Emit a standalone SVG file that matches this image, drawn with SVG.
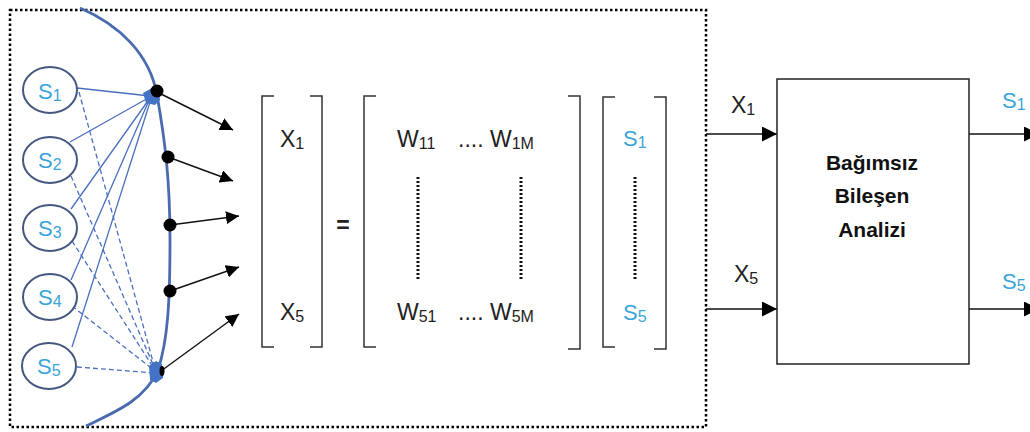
<svg xmlns="http://www.w3.org/2000/svg" width="1030" height="432" viewBox="0 0 1030 432">
  <style>
    .frame { fill: none; stroke: #000; stroke-width: 2.5; stroke-dasharray: 2.5 2.5; }
    .src { fill: #fff; stroke: #44587F; stroke-width: 2; }
    .slbl { font-family: "Liberation Sans", Arial, sans-serif; font-size: 22px; fill: #3AA4DA; }
    .lbl { font-family: "Liberation Sans", Arial, sans-serif; font-size: 23px; fill: #222; }
    .bold { font-family: "Liberation Sans", Arial, sans-serif; font-size: 21px; font-weight: bold; fill: #111; text-anchor: middle; }
    .mix { fill: none; stroke: #4A6FC0; stroke-width: 1.3; }
    .mixd { fill: none; stroke: #4A6FC0; stroke-width: 1.3; stroke-dasharray: 5 3; }
    .arrow { fill: none; stroke: #111; stroke-width: 1.4; marker-end: url(#tri); }
    .flow { fill: none; stroke: #111; stroke-width: 1.4; marker-end: url(#tri2); }
    .brk { fill: none; stroke: #333; stroke-width: 1.5; }
    .vdots { fill: none; stroke: #111; stroke-width: 3; stroke-dasharray: 2 2; }
    .sub { font-size: 16px; }
  </style>
  <defs>
    <marker id="tri" viewBox="0 0 10 10" refX="10" refY="5" markerWidth="13" markerHeight="13" markerUnits="userSpaceOnUse" orient="auto">
      <path d="M0,0 L10,5 L0,10 z" fill="#000"/>
    </marker>
    <marker id="tri2" viewBox="0 0 10 10" refX="10" refY="5" markerWidth="15" markerHeight="15" markerUnits="userSpaceOnUse" orient="auto">
      <path d="M0,0 L10,5 L0,10 z" fill="#000"/>
    </marker>
  </defs>

  <!-- dotted frame around the mixing model -->
  <rect class="frame" x="10" y="10" width="696" height="417"/>

  <!-- sensor arc -->
  <path d="M80,8 C120,25 150,55 157,95 C165,140 170,180 170,240 C170,300 168,340 158,370 C145,400 115,412 86,426" fill="none" stroke="#4A6BB0" stroke-width="2.8"/>

  <!-- mixing connectors -->
  <g id="connectors">
    <line class="mix" x1="77" y1="88" x2="150" y2="96"/>
    <line class="mix" x1="70" y1="142" x2="150" y2="97"/>
    <line class="mix" x1="71" y1="209" x2="150" y2="98"/>
    <line class="mix" x1="71" y1="280" x2="150" y2="98"/>
    <line class="mix" x1="72" y1="347" x2="151" y2="99"/>
    <line class="mixd" x1="79" y1="92" x2="155" y2="369"/>
    <line class="mixd" x1="71" y1="176" x2="155" y2="369"/>
    <line class="mixd" x1="72" y1="241" x2="155" y2="370"/>
    <line class="mixd" x1="72" y1="306" x2="155" y2="371"/>
    <line class="mixd" x1="77" y1="367" x2="155" y2="373"/>
    <!-- blue arrival marks -->
    <path d="M143,93 L152,88 L159,90 L160,100 L155,105 L146,103 z" fill="#4472C4"/>
    <path d="M149,366 L156,361 L162,364 L163,378 L156,383 L150,380 z" fill="#4472C4"/>

    <!-- sensor outputs -->
    <line class="arrow" x1="157" y1="92" x2="233" y2="130"/>
    <line class="arrow" x1="168" y1="157" x2="233" y2="181"/>
    <line class="arrow" x1="170" y1="225" x2="239" y2="216"/>
    <line class="arrow" x1="170" y1="291" x2="239" y2="267"/>
    <line class="arrow" x1="161" y1="371" x2="239" y2="314"/>

    <!-- block inputs and outputs -->
    <line class="flow" x1="706" y1="134" x2="777" y2="134"/>
    <line class="flow" x1="706" y1="309" x2="777" y2="309"/>
    <line class="flow" x1="969" y1="134" x2="1039" y2="134"/>
    <line class="flow" x1="969" y1="309" x2="1039" y2="309"/>
  </g>

  <!-- sensor points -->
  <g id="sensors" fill="#000">
    <circle cx="157" cy="91" r="6.5"/>
    <circle cx="168" cy="157" r="6.5"/>
    <circle cx="170" cy="225" r="6.5"/>
    <circle cx="170" cy="291" r="6.5"/>
    <ellipse cx="162" cy="371" rx="2.5" ry="5"/>
  </g>

  <!-- sources -->
  <g id="s1"><ellipse class="src" cx="50" cy="90" rx="27" ry="23"/><text class="slbl" x="38" y="99">S<tspan class="sub" dy="2">1</tspan></text></g>
  <g id="s2"><ellipse class="src" cx="50" cy="160" rx="27" ry="23"/><text class="slbl" x="38" y="168">S<tspan class="sub" dy="2">2</tspan></text></g>
  <g id="s3"><ellipse class="src" cx="50" cy="228" rx="27" ry="23"/><text class="slbl" x="38" y="236">S<tspan class="sub" dy="2">3</tspan></text></g>
  <g id="s4"><ellipse class="src" cx="50" cy="297" rx="27" ry="23"/><text class="slbl" x="38" y="305">S<tspan class="sub" dy="2">4</tspan></text></g>
  <g id="s5"><ellipse class="src" cx="49" cy="366" rx="27" ry="23"/><text class="slbl" x="37" y="374">S<tspan class="sub" dy="2">5</tspan></text></g>

  <!-- X = W S -->
  <g id="matrix-x">
    <path class="brk" d="M274,96 L262,96 L262,347 L274,347"/>
    <path class="brk" d="M310,96 L322,96 L322,347 L310,347"/>
    <text class="lbl" x="280" y="147">X<tspan class="sub" dy="2">1</tspan></text>
    <text class="lbl" x="280" y="320">X<tspan class="sub" dy="2">5</tspan></text>
  </g>
  <text id="equals" class="lbl" x="343" y="233" text-anchor="middle" font-weight="bold">=</text>
  <g id="matrix-w">
    <path class="brk" d="M376,96 L364,96 L364,347 L376,347"/>
    <path class="brk" d="M568,96 L580,96 L580,349 L568,349"/>
    <text class="lbl" y="147"><tspan x="397">W</tspan><tspan class="sub" dy="2">11</tspan><tspan x="458" dy="-2">....</tspan><tspan x="490">W</tspan><tspan class="sub" dy="2">1M</tspan></text>
    <text class="lbl" y="320"><tspan x="397">W</tspan><tspan class="sub" dy="2">51</tspan><tspan x="458" dy="-2">....</tspan><tspan x="490">W</tspan><tspan class="sub" dy="2">5M</tspan></text>
    <line class="vdots" x1="418" y1="177" x2="418" y2="281"/>
    <line class="vdots" x1="521" y1="177" x2="521" y2="281"/>
  </g>
  <g id="matrix-s">
    <path class="brk" d="M615,97 L603,97 L603,347 L615,347"/>
    <path class="brk" d="M654,97 L666,97 L666,349 L654,349"/>
    <text class="slbl" x="623" y="146">S<tspan class="sub" dy="2">1</tspan></text>
    <text class="slbl" x="623" y="320">S<tspan class="sub" dy="2">5</tspan></text>
    <line class="vdots" x1="635" y1="177" x2="635" y2="281"/>
  </g>

  <!-- separation block -->
  <g id="ica">
    <rect x="777" y="79" width="192" height="285" fill="#fff" stroke="#222" stroke-width="1.5"/>
    <text class="bold" x="872" y="170">Bağımsız</text>
    <text class="bold" x="872" y="203">Bileşen</text>
    <text class="bold" x="872" y="237">Analizi</text>
  </g>
  <text class="lbl" x="731" y="113">X<tspan class="sub" dy="2">1</tspan></text>
  <text class="lbl" x="734" y="282">X<tspan class="sub" dy="2">5</tspan></text>
  <text class="slbl" x="1002" y="108">S<tspan class="sub" dy="2">1</tspan></text>
  <text class="slbl" x="1002" y="289">S<tspan class="sub" dy="2">5</tspan></text>
</svg>
